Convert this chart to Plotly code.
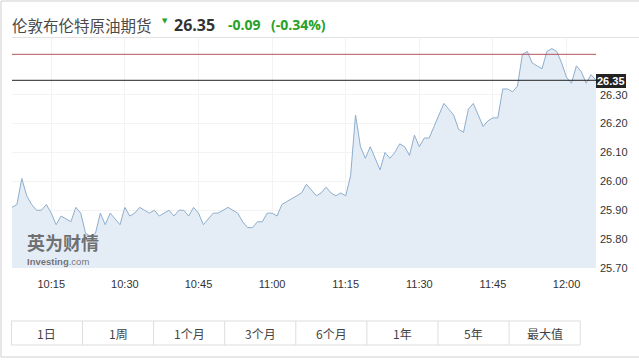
import plotly.graph_objects as go
import pandas as pd

# ---- data ----
title_text = "伦敦布伦特原油期货"
change = -0.09
change_pct = -0.34
start_time = "2016-03-04 10:07"
prices = [
    25.91, 25.92, 26.01, 25.95, 25.92, 25.90, 25.90, 25.92, 25.89, 25.85,
    25.88, 25.87, 25.86, 25.91, 25.89, 25.82, 25.81, 25.82, 25.89, 25.85,
    25.89, 25.87, 25.85, 25.91, 25.88, 25.89, 25.91, 25.90, 25.89, 25.90,
    25.88, 25.89, 25.90, 25.88, 25.90, 25.90, 25.88, 25.91, 25.89, 25.85,
    25.87, 25.89, 25.89, 25.90, 25.91, 25.90, 25.89, 25.86, 25.84, 25.84,
    25.86, 25.86, 25.89, 25.89, 25.88, 25.92, 25.93, 25.94, 25.95, 25.96,
    25.99, 25.97, 25.95, 25.96, 25.98, 25.96, 25.95, 25.96, 25.95, 26.02,
    26.23, 26.12, 26.08, 26.12, 26.08, 26.04, 26.10, 26.08, 26.10, 26.13,
    26.12, 26.09, 26.16, 26.12, 26.15, 26.15, 26.19, 26.23, 26.27, 26.25,
    26.23, 26.18, 26.17, 26.25, 26.27, 26.23, 26.19, 26.21, 26.22, 26.22,
    26.32, 26.32, 26.31, 26.33, 26.44, 26.45, 26.41, 26.40, 26.39, 26.45,
    26.46, 26.45, 26.41, 26.36, 26.34, 26.40, 26.38, 26.34, 26.37, 26.35,
]
x_tick_labels = ["10:15", "10:30", "10:45", "11:00", "11:15", "11:30", "11:45", "12:00"]
y_tick_values = [25.70, 25.80, 25.90, 26.00, 26.10, 26.20, 26.30]
y_range = [25.70, 26.50]
buttons = ["1日", "1周", "1个月", "3个月", "6个月", "1年", "5年", "最大值"]

times = pd.date_range(start_time, periods=len(prices), freq="1min")
day = start_time.split(" ")[0]
x_tick_vals = [pd.Timestamp(f"{day} {t}") for t in x_tick_labels]
last = prices[-1]
prev_close = round(last - change, 2)

# ---- layout geometry ----
W, H = 639, 360
L, R, T, B = 12, 43, 37, 92
PW, PH = W - L - R, H - T - B


def px(x):
    return (x - L) / PW


def py(y):
    return (H - B - y) / PH


CJK = "Noto Sans CJK SC"
LAT = "Arial, Liberation Sans, sans-serif"
GREEN = "#27a127"

fig = go.Figure()
fig.add_trace(go.Scatter(
    x=times, y=prices, mode="lines",
    line=dict(color="#8eaecd", width=1),
    fill="tozeroy", fillcolor="#e4edf6",
    hoverinfo="skip", showlegend=False,
))

shapes = [
    # previous close (red) and last price (black)
    dict(type="line", xref="paper", yref="y", x0=0, x1=1, y0=prev_close, y1=prev_close,
         line=dict(color="#b9505a", width=1)),
    dict(type="line", xref="paper", yref="y", x0=0, x1=1, y0=last, y1=last,
         line=dict(color="#222222", width=1)),
    # frame lines
    dict(type="line", xref="paper", yref="paper", x0=px(1), x1=px(1), y0=py(1), y1=py(357),
         line=dict(color="#cfcfcf", width=1), layer="above"),
    dict(type="line", xref="paper", yref="paper", x0=px(1), x1=px(639), y0=py(1), y1=py(1),
         line=dict(color="#cfcfcf", width=1), layer="above"),
    dict(type="line", xref="paper", yref="paper", x0=px(1), x1=px(639), y0=py(357), y1=py(357),
         line=dict(color="#cfcfcf", width=1), layer="above"),
    dict(type="line", xref="paper", yref="paper", x0=px(12), x1=px(639), y0=py(37.5), y1=py(37.5),
         line=dict(color="#e2e2e2", width=1), layer="above"),
    # price label box
    dict(type="rect", xref="paper", yref="paper", x0=px(596), x1=px(626),
         y0=py(74), y1=py(88), fillcolor="#222222", line=dict(width=0), layer="above"),
]

annotations = [
    dict(text=title_text, x=px(10), y=py(25), xanchor="left", yanchor="middle",
         font=dict(family=CJK, size=15.5, color="#4a4a4a")),
    dict(text="▼", x=px(165), y=py(21), xanchor="center", yanchor="middle",
         font=dict(family="DejaVu Sans", size=7, color=GREEN)),
    dict(text=f"<b>{last:.2f}</b>", x=px(172), y=py(25), xanchor="left", yanchor="middle",
         font=dict(family="Open Sans, " + LAT, size=16, color="#333333")),
    dict(text=f"<b>{change:.2f}</b>", x=px(226), y=py(25), xanchor="left", yanchor="middle",
         font=dict(family="Open Sans, " + LAT, size=14, color=GREEN)),
    dict(text=f"<b>({change_pct:.2f}%)</b>", x=px(269), y=py(25), xanchor="left", yanchor="middle",
         font=dict(family="Open Sans, " + LAT, size=14, color=GREEN)),
    dict(text=f"<b>{last:.2f}</b>", x=px(611), y=py(81), xanchor="center", yanchor="middle",
         font=dict(family=LAT, size=11, color="#ffffff")),
    # watermark
    dict(text="<b>英为财情</b>", x=px(25), y=py(242), xanchor="left", yanchor="middle",
         font=dict(family=CJK, size=18, color="rgba(90,90,90,0.85)")),
    dict(text="<b>Investing</b><span style='font-weight:normal'>.com</span>", x=px(25), y=py(261.5),
         xanchor="left", yanchor="middle",
         font=dict(family=LAT, size=9.5, color="rgba(90,90,90,0.85)")),
]

# range buttons
edges = [11.4 + i * 71.1 for i in range(len(buttons) + 1)]
shapes.append(dict(type="rect", xref="paper", yref="paper", x0=px(edges[0]), x1=px(edges[-1]),
                   y0=py(321), y1=py(345), line=dict(color="#dddddd", width=1), layer="above"))
for i, lab in enumerate(buttons):
    if i > 0:
        shapes.append(dict(type="line", xref="paper", yref="paper", x0=px(edges[i]), x1=px(edges[i]),
                           y0=py(321), y1=py(345), line=dict(color="#dddddd", width=1), layer="above"))
    annotations.append(dict(text=lab, x=px((edges[i] + edges[i + 1]) / 2), y=py(333),
                            xanchor="center", yanchor="middle",
                            font=dict(family=CJK, size=12, color="#444444")))

for a in annotations:
    a.update(xref="paper", yref="paper", showarrow=False)

fig.update_layout(
    width=W, height=H, margin=dict(l=L, r=R, t=T, b=B, pad=0),
    paper_bgcolor="white", plot_bgcolor="white",
    shapes=shapes, annotations=annotations, showlegend=False,
    xaxis=dict(range=[times[0], times[-1]], tickvals=x_tick_vals, ticktext=x_tick_labels,
               showgrid=True, gridcolor="#f3f3f3", zeroline=False, ticks="",
               ticklabelstandoff=8, tickfont=dict(family=LAT, size=11, color="#333333"),
               showline=False, fixedrange=True),
    yaxis=dict(range=y_range, side="right", tickvals=y_tick_values,
               ticktext=[f"{v:.2f}" for v in y_tick_values],
               showgrid=True, gridcolor="#f3f3f3", zeroline=False, ticks="",
               ticklabelstandoff=3, tickfont=dict(family=LAT, size=11, color="#333333"),
               showline=False, fixedrange=True),
)

fig.write_html("out.html")
